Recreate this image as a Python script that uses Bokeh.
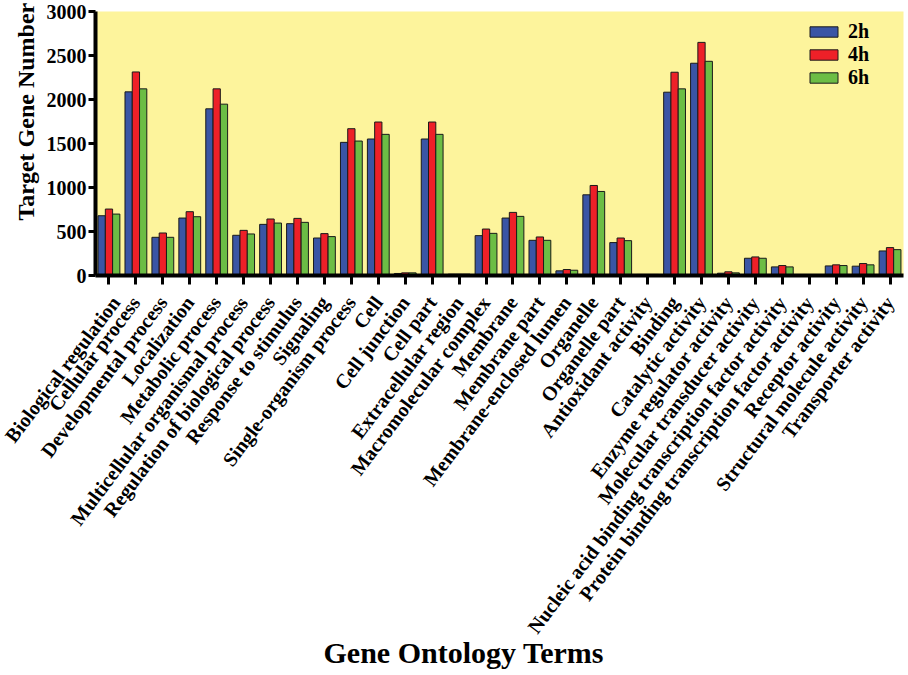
import math
from bokeh.plotting import figure
from bokeh.models import FactorRange, Range1d, FixedTicker, ColumnDataSource, Title
from bokeh.transform import dodge
from bokeh.embed import file_html
from bokeh.resources import INLINE

categories = [
    "Biological regulation", "Cellular process", "Developmental process", "Localization",
    "Metabolic process", "Multicellular organismal process", "Regulation of biological process",
    "Response to stimulus", "Signaling", "Single-organism process", "Cell", "Cell junction",
    "Cell part", "Extracellular region", "Macromolecular complex", "Membrane", "Membrane part",
    "Membrane-enclosed lumen", "Organelle", "Organelle part", "Antioxidant activity", "Binding",
    "Catalytic activity", "Enzyme regulator activity", "Molecular transducer activity",
    "Nucleic acid binding transcription factor activity",
    "Protein binding transcription factor activity", "Receptor activity",
    "Structural molecule activity", "Transporter activity",
]
h2 = [679, 2087, 434, 653, 1894, 457, 581, 589, 426, 1513, 1551, 23, 1551, 15, 453, 653, 400,
      53, 917, 374, 12, 2083, 2412, 26, 196, 98, 3, 109, 106, 279]
h4 = [755, 2313, 483, 725, 2121, 513, 642, 649, 476, 1668, 1744, 30, 1744, 15, 528, 717, 438,
      68, 1023, 426, 12, 2310, 2649, 42, 211, 113, 3, 121, 136, 317]
h6 = [698, 2121, 434, 668, 1947, 472, 596, 604, 442, 1528, 1604, 30, 1604, 15, 479, 672, 400,
      60, 955, 396, 12, 2121, 2434, 30, 196, 98, 3, 113, 121, 294]
series = ["2h", "4h", "6h"]
y_ticks = [0, 500, 1000, 1500, 2000, 2500, 3000]

colors = ["#3A55A5", "#EE2028", "#6CBD45"]
FONT = "Liberation Serif"

W, H = 904, 670
src = ColumnDataSource(dict(cat=categories, h2=h2, h4=h4, h6=h6))

p = figure(
    x_range=FactorRange(factors=categories, range_padding=0),
    y_range=Range1d(0, 3000),
    width=W, height=H,
    output_backend="svg", toolbar_location=None,
    min_border_left=95, min_border_right=1, min_border_top=11, min_border_bottom=H - 275,
)
p.background_fill_color = "#FDF49C"
p.border_fill_color = "white"
p.outline_line_color = None
p.grid.visible = False

bw = 0.27
for i, (col, name) in enumerate(zip(["h2", "h4", "h6"], series)):
    p.vbar(x=dodge("cat", (i - 1) * bw, range=p.x_range), top=col, width=bw, bottom=0,
           source=src, fill_color=colors[i], line_color="#1a1a1a", line_width=1,
           legend_label=name)

# axes
for ax in (p.xaxis[0], p.yaxis[0]):
    ax.axis_line_width = 4
    ax.axis_line_color = "black"
    ax.major_tick_line_width = 3
    ax.major_tick_line_color = "black"
    ax.minor_tick_line_color = None
    ax.major_tick_in = 0
    ax.major_label_text_font = FONT
    ax.major_label_text_font_style = "bold"
    ax.major_label_text_color = "black"

p.xaxis.major_tick_out = 9
p.xaxis.major_label_orientation = math.radians(53)
p.xaxis.major_label_text_font_size = "20px"
p.xaxis.major_label_standoff = 14

p.yaxis.ticker = FixedTicker(ticks=y_ticks)
p.yaxis.major_tick_out = 7
p.yaxis.major_label_text_font_size = "20px"
p.yaxis.major_label_standoff = 2

# legend
lg = p.legend[0]
lg.location = (711, 186)
lg.background_fill_alpha = 0
lg.border_line_color = None
lg.padding = 0
lg.margin = 0
lg.spacing = 0
lg.glyph_width = 35
lg.glyph_height = 13
lg.label_height = 20
lg.label_standoff = 7
lg.label_text_font = FONT
lg.label_text_font_style = "bold"
lg.label_text_font_size = "20px"
lg.label_text_color = "black"

# axis titles
p.add_layout(Title(text="Target Gene Number", align="left", offset=55, standoff=10,
                   text_font=FONT, text_font_style="bold", text_font_size="24px",
                   text_color="black"), "left")
p.add_layout(Title(text="Gene Ontology Terms", align="left", offset=228, standoff=-23,
                   vertical_align="top",
                   text_font=FONT, text_font_style="bold", text_font_size="30px",
                   text_color="black"), "below")

open("out.html", "w").write(file_html(p, INLINE))
